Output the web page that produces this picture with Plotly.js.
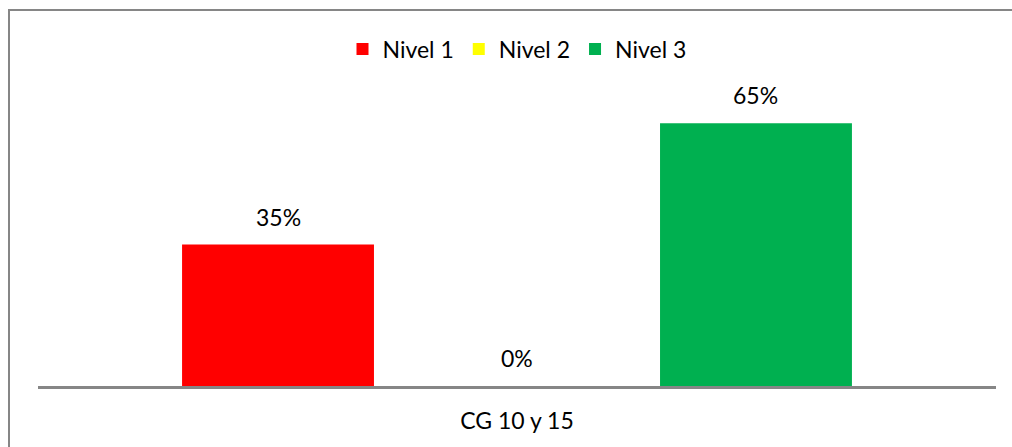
<!DOCTYPE html>
<html>
<head>
<meta charset="utf-8">
<script src="https://cdn.plot.ly/plotly-3.0.1.min.js"></script>
<style>
  html, body { margin: 0; padding: 0; background: #fff; }
  #chart { width: 1012px; height: 447px; }
</style>
</head>
<body>
<div id="chart"></div>
<script>
// ---- data ----
const categories = ["CG 10 y 15"];
const seriesNames = ["Nivel 1", "Nivel 2", "Nivel 3"];
const nivel1 = [0.35];
const nivel2 = [0.00];
const nivel3 = [0.65];
const seriesColors = ["#FF0000", "#FFFF00", "#00B050"];

const seriesValues = [nivel1, nivel2, nivel3];

// ---- layout constants ----
const W = 1012, H = 447;
const M = { l: 38, r: 16, t: 103, b: 61 };
const plotW = W - M.l - M.r;
const plotH = H - M.t - M.b;
const bargap = 0.2516;
const bargroupgap = 0.197;
const FONT = "Lato, 'Open Sans', sans-serif";
const FS = 23;

const traces = seriesNames.map((name, i) => ({
  type: "bar",
  name: name,
  x: categories,
  y: seriesValues[i],
  marker: { color: seriesColors[i] },
  hoverinfo: "skip",
  textposition: "none"
}));

// data labels, one per bar, positioned by data value and group slot
const slotPx = plotW * (1 - bargap) / seriesNames.length;
const annotations = [];
seriesValues.forEach((vals, i) => {
  vals.forEach((v, j) => {
    annotations.push({
      x: categories[j], y: v, xref: "x", yref: "y",
      text: Math.round(v * 100) + "%",
      showarrow: false,
      xshift: (i - (seriesNames.length - 1) / 2) * slotPx,
      yanchor: "bottom",
      yshift: 12,
      font: { family: FONT, size: FS, color: "#000" }
    });
  });
});

const legendCenterPx = 49;

const layout = {
  width: W, height: H,
  margin: M,
  paper_bgcolor: "#fff",
  plot_bgcolor: "#fff",
  barmode: "group",
  bargap: bargap,
  bargroupgap: bargroupgap,
  showlegend: true,
  legend: {
    orientation: "h",
    x: 0.5, xanchor: "center",
    y: (H - M.b - legendCenterPx) / plotH, yanchor: "middle",
    font: { family: FONT, size: FS, color: "#000" },
    bgcolor: "rgba(0,0,0,0)",
    itemclick: false
  },
  font: { family: FONT, size: FS, color: "#000" },
  xaxis: {
    type: "category",
    showline: true, linecolor: "#868686", linewidth: 2.5,
    showgrid: false, zeroline: false,
    ticks: "outside", ticklen: 13, tickcolor: "rgba(0,0,0,0)",
    tickfont: { family: FONT, size: FS, color: "#000" }
  },
  yaxis: {
    range: [0, 0.7],
    visible: false,
    showgrid: false, zeroline: false
  },
  annotations: annotations,
  shapes: [{
    type: "rect", xref: "paper", yref: "paper",
    x0: (9 - M.l) / plotW, x1: (W + 20 - M.l) / plotW,
    y0: -(M.b + 20) / plotH, y1: (plotH + M.t - 10) / plotH,
    line: { color: "#868686", width: 2 },
    fillcolor: "rgba(0,0,0,0)", layer: "below"
  }]
};

Plotly.newPlot("chart", traces, layout, { displayModeBar: false, staticPlot: true });
</script>
</body>
</html>
